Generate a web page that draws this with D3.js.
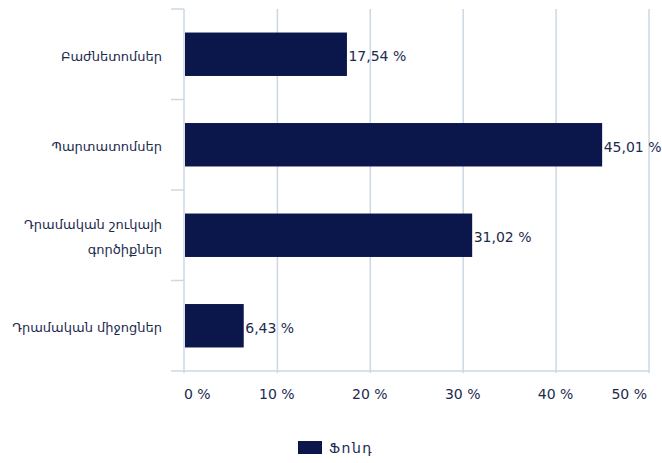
<!DOCTYPE html>
<html>
<head>
<meta charset="utf-8">
<script src="https://cdn.jsdelivr.net/npm/d3@7"></script>
<style>
  body { margin: 0; background: #fff; }
  text { font-family: "DejaVu Sans", Verdana, sans-serif; fill: #1c2a4e; }
</style>
</head>
<body>
<div id="chart"></div>
<script>
// chart data
var categories = [["Բաժնետոմսեր"], ["Պարտատոմսեր"], ["Դրամական շուկայի", "գործիքներ"], ["Դրամական միջոցներ"]];
var values = [17.54, 45.01, 31.02, 6.43];
var ticks = [0, 10, 20, 30, 40, 50];
var seriesName = "Ֆոնդ";

var w = 662;
var h = 463;
var barColor = "#0b174b";
var gridColor = "#ccd8e6";

var svg = d3.select("#chart")
    .append("svg")
    .attr("width", w)
    .attr("height", h);

var xScale = d3.scaleLinear()
    .domain([0, 50])
    .range([184, 648.5]);

var yScale = d3.scaleBand()
    .domain(d3.range(categories.length))
    .range([9, 371])
    .paddingInner(0.52)
    .paddingOuter(0.26);

// gridlines
svg.selectAll("line.grid")
    .data(ticks.slice(1))
    .enter()
    .append("line")
    .attr("class", "grid")
    .attr("x1", function (d) { return xScale(d) + 0.5; })
    .attr("x2", function (d) { return xScale(d) + 0.5; })
    .attr("y1", 9)
    .attr("y2", 373)
    .attr("stroke", gridColor)
    .attr("stroke-width", 1.5);

// baseline
svg.append("line")
    .attr("x1", 184)
    .attr("x2", 649)
    .attr("y1", 371)
    .attr("y2", 371)
    .attr("stroke", gridColor)
    .attr("stroke-width", 1.5);

// y axis with category tick marks
var bandEdges = d3.range(categories.length + 1).map(function (i) {
    return 9 + i * (362 / categories.length);
});
svg.append("line")
    .attr("x1", 184)
    .attr("x2", 184)
    .attr("y1", 9)
    .attr("y2", 373)
    .attr("stroke", gridColor)
    .attr("stroke-width", 1.5);
svg.selectAll("line.ytick")
    .data(bandEdges)
    .enter()
    .append("line")
    .attr("class", "ytick")
    .attr("x1", 171)
    .attr("x2", 184)
    .attr("y1", function (d) { return d; })
    .attr("y2", function (d) { return d; })
    .attr("stroke", gridColor)
    .attr("stroke-width", 1.5);

// bars
svg.selectAll("rect.bar")
    .data(values)
    .enter()
    .append("rect")
    .attr("class", "bar")
    .attr("x", xScale(0) + 1)
    .attr("y", function (d, i) { return yScale(i); })
    .attr("width", function (d) { return xScale(d) - xScale(0) - 1; })
    .attr("height", yScale.bandwidth())
    .attr("fill", barColor);

// value labels
svg.selectAll("text.value")
    .data(values)
    .enter()
    .append("text")
    .attr("class", "value")
    .attr("x", function (d) { return xScale(d) + 1.5; })
    .attr("y", function (d, i) { return yScale(i) + yScale.bandwidth() / 2 + 7; })
    .attr("font-size", "14px")
    .text(function (d) { return d.toFixed(2).replace(".", ",") + " %"; });

// category labels
var catLabels = svg.selectAll("text.cat")
    .data(categories)
    .enter()
    .append("text")
    .attr("class", "cat")
    .attr("text-anchor", "end")
    .attr("font-size", "13px")
    .attr("y", function (d, i) {
        return yScale(i) + yScale.bandwidth() / 2 + 6.5 - (d.length - 1) * 12.5;
    });
catLabels.selectAll("tspan")
    .data(function (d) { return d; })
    .enter()
    .append("tspan")
    .attr("x", 162)
    .attr("dy", function (d, i) { return i === 0 ? 0 : 25; })
    .text(function (d) { return d; });

// x tick labels (first and last kept inside the plot edges)
svg.selectAll("text.xtick")
    .data(ticks)
    .enter()
    .append("text")
    .attr("class", "xtick")
    .attr("x", function (d, i) {
        if (i === 0) return xScale(d);
        if (i === ticks.length - 1) return xScale(d) - 1.5;
        return xScale(d);
    })
    .attr("y", 399)
    .attr("text-anchor", function (d, i) {
        if (i === 0) return "start";
        if (i === ticks.length - 1) return "end";
        return "middle";
    })
    .attr("font-size", "14px")
    .text(function (d) { return d + " %"; });

// legend
svg.append("rect")
    .attr("x", 298)
    .attr("y", 441)
    .attr("width", 24)
    .attr("height", 13)
    .attr("fill", barColor);
svg.append("text")
    .attr("x", 329)
    .attr("y", 453)
    .attr("font-size", "14px")
    .attr("letter-spacing", "1.5px")
    .text(seriesName);
</script>
</body>
</html>
